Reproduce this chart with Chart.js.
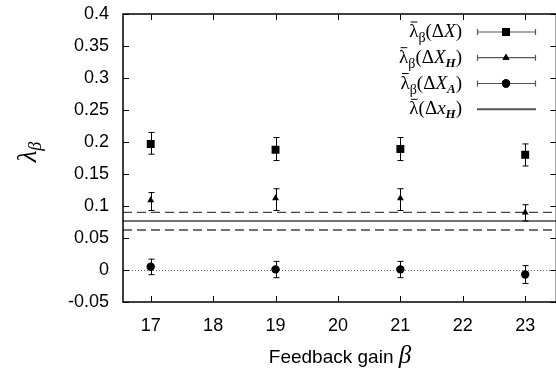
<!DOCTYPE html>
<html>
<head>
<meta charset="utf-8">
<script src="https://cdn.jsdelivr.net/npm/chart.js@4"></script>
<style>
  html, body { margin: 0; padding: 0; background: #fff; overflow: hidden; }
  #wrap { width: 556px; height: 371px; overflow: hidden; }
</style>
</head>
<body>
<div id="wrap"><canvas id="chart" width="562" height="371"></canvas></div>
<script>
// feedback gain values
const betas = [17, 19, 21, 23];

// lambda_beta(dX)
const lamX = [0.197, 0.188, 0.189, 0.180];
const lamXLo = [0.181, 0.171, 0.171, 0.1625];
const lamXHi = [0.215, 0.207, 0.207, 0.197];

// lambda_beta(dX_H)
const lamXH = [0.109, 0.112, 0.112, 0.090];
const lamXHLo = [0.093, 0.093, 0.093, 0.0766];
const lamXHHi = [0.121, 0.127, 0.127, 0.102];

// lambda_beta(dX_A)
const lamXA = [0.005, 0.001, 0.001, -0.007];
const lamXALo = [-0.0073, -0.012, -0.012, -0.021];
const lamXAHi = [0.017, 0.0135, 0.0135, 0.0068];

// lambda(dx_H) with band
const refVal = 0.0766;
const refLo = 0.0625;
const refHi = 0.090;

const xRange = [16.556, 23.5];
const xTicks = [17, 18, 19, 20, 21, 22, 23];
const yTicks = [-0.05, 0, 0.05, 0.1, 0.15, 0.2, 0.25, 0.3, 0.35, 0.4];

const errs = {
  0: [lamXLo, lamXHi],
  1: [lamXHLo, lamXHHi],
  2: [lamXALo, lamXAHi]
};

function pts(vals) {
  return betas.map((b, i) => ({ x: b, y: vals[i] }));
}
function hline(v) {
  return [{ x: xRange[0], y: v }, { x: xRange[1], y: v }];
}

// text made of pieces: [text, font, dy]
function pieceWidth(ctx, pieces) {
  let w = 0;
  pieces.forEach(p => { ctx.font = p[1]; w += ctx.measureText(p[0]).width; });
  return w;
}
function drawPieces(ctx, pieces, x, y) {
  pieces.forEach(p => {
    ctx.font = p[1];
    ctx.fillText(p[0], x, y + (p[2] || 0));
    x += ctx.measureText(p[0]).width;
  });
}

const SER = '"Liberation Serif", "DejaVu Serif", serif';
const SANS = '"Liberation Sans", Arial, sans-serif';
const fN = '19px ' + SER;
const fI = 'italic 19px ' + SER;
const fS = '14px ' + SER;
const fSI = 'italic 600 13px ' + SER;

const legendRows = [
  { label: [['λ', fN], ['β', fS, 5], ['(Δ', fN], ['X', fI], [')', fN]], style: 'rect', r: 5.6 },
  { label: [['λ', fN], ['β', fS, 5], ['(Δ', fN], ['X', fI], ['H', fSI, 4], [')', fN]], style: 'triangle', r: 4 },
  { label: [['λ', fN], ['β', fS, 5], ['(Δ', fN], ['X', fI], ['A', fSI, 4], [')', fN]], style: 'circle', r: 4.2 },
  { label: [['λ', fN], ['(Δ', fN], ['x', fI], ['H', fSI, 4], [')', fN]], style: null }
];

const decor = {
  id: 'decor',
  beforeDatasetsDraw(chart) {
    const ctx = chart.ctx;
    const a = chart.chartArea;
    const ys = chart.scales.y;
    ctx.save();
    // dotted zero line
    ctx.strokeStyle = '#444';
    ctx.lineWidth = 0.8;
    ctx.setLineDash([1, 2]);
    ctx.beginPath();
    const y0 = Math.round(ys.getPixelForValue(0)) + 0.5;
    ctx.moveTo(a.left, y0); ctx.lineTo(a.right, y0);
    ctx.stroke();
    ctx.restore();
  },
  afterDatasetsDraw(chart) {
    const ctx = chart.ctx;
    const a = chart.chartArea;
    const xs = chart.scales.x, ys = chart.scales.y;
    ctx.save();
    // error bars
    ctx.strokeStyle = '#000';
    ctx.lineWidth = 1;
    Object.keys(errs).forEach(k => {
      const [lo, hi] = errs[k];
      betas.forEach((b, i) => {
        const px = Math.round(xs.getPixelForValue(b)) + 0.5;
        const pl = ys.getPixelForValue(lo[i]);
        const ph = ys.getPixelForValue(hi[i]);
        ctx.beginPath();
        ctx.moveTo(px, pl); ctx.lineTo(px, ph);
        ctx.moveTo(px - 3, pl); ctx.lineTo(px + 3, pl);
        ctx.moveTo(px - 3, ph); ctx.lineTo(px + 3, ph);
        ctx.stroke();
      });
    });
    // frame
    ctx.lineWidth = 1.5;
    ctx.strokeRect(a.left, a.top, a.right - a.left, a.bottom - a.top);
    // inward ticks
    ctx.lineWidth = 1;
    ctx.beginPath();
    xTicks.forEach(v => {
      const px = Math.round(xs.getPixelForValue(v)) + 0.5;
      ctx.moveTo(px, a.bottom); ctx.lineTo(px, a.bottom - 6);
      ctx.moveTo(px, a.top); ctx.lineTo(px, a.top + 6);
    });
    yTicks.forEach(v => {
      const py = Math.round(ys.getPixelForValue(v)) + 0.5;
      ctx.moveTo(a.left, py); ctx.lineTo(a.left + 6, py);
      ctx.moveTo(a.right, py); ctx.lineTo(a.right - 6, py);
    });
    ctx.stroke();

    // legend
    const rowY = [32, 57.7, 83.5, 109.3];
    const textRight = 462, lx0 = 477, lx1 = 536, lmid = 506;
    ctx.textBaseline = 'alphabetic';
    legendRows.forEach((row, i) => {
      const y = rowY[i];
      const w = pieceWidth(ctx, row.label);
      const x = textRight - w;
      ctx.fillStyle = '#000';
      drawPieces(ctx, row.label, x, y + 5);
      // macron over lambda
      ctx.font = fN;
      const lw = ctx.measureText('λ').width;
      ctx.strokeStyle = '#000';
      ctx.lineWidth = 1;
      ctx.beginPath();
      ctx.moveTo(x + 1.5, y - 10); ctx.lineTo(x + lw - 1, y - 10);
      ctx.stroke();
      // sample
      ctx.strokeStyle = '#555';
      ctx.lineWidth = row.style ? 1.2 : 2;
      ctx.beginPath();
      ctx.moveTo(lx0, y); ctx.lineTo(lx1, y);
      if (row.style) {
        ctx.moveTo(lx0 + 0.5, y - 3); ctx.lineTo(lx0 + 0.5, y + 3);
        ctx.moveTo(lx1 - 0.5, y - 3); ctx.lineTo(lx1 - 0.5, y + 3);
      }
      ctx.stroke();
      if (row.style) {
        ctx.fillStyle = '#000';
        Chart.helpers.drawPoint(ctx, { pointStyle: row.style, radius: row.r, borderWidth: 0 }, lmid, y);
        ctx.fill();
      }
    });

    // axis titles
    ctx.fillStyle = '#000';
    ctx.textBaseline = 'alphabetic';
    const t1 = 'Feedback gain ';
    ctx.font = '19px ' + SANS;
    const w1 = ctx.measureText(t1).width;
    ctx.font = 'italic 25px ' + SER;
    const w2 = ctx.measureText('β').width;
    const tx = 340 - (w1 + w2) / 2;
    ctx.font = '19px ' + SANS;
    ctx.fillText(t1, tx, 363);
    ctx.font = 'italic 25px ' + SER;
    ctx.fillText('β', tx + w1, 363);

    ctx.save();
    ctx.translate(36, 152);
    ctx.rotate(-Math.PI / 2);
    ctx.font = 'italic 27px ' + SER;
    const lwid = ctx.measureText('λ').width;
    ctx.font = 'italic 18px ' + SER;
    const bwid = ctx.measureText('β').width;
    const tot = lwid + bwid;
    ctx.font = 'italic 27px ' + SER;
    ctx.fillText('λ', -tot / 2, 0);
    ctx.font = 'italic 18px ' + SER;
    ctx.fillText('β', -tot / 2 + lwid, 5);
    ctx.restore();

    ctx.restore();
  }
};

new Chart(document.getElementById('chart').getContext('2d'), {
  type: 'scatter',
  data: {
    datasets: [
      { data: pts(lamX), pointStyle: 'rect', pointRadius: 5.6, backgroundColor: '#000', borderWidth: 0, order: 1 },
      { data: pts(lamXH), pointStyle: 'triangle', pointRadius: 4, backgroundColor: '#000', borderWidth: 0, order: 1 },
      { data: pts(lamXA), pointStyle: 'circle', pointRadius: 4.2, backgroundColor: '#000', borderWidth: 0, order: 1 },
      { type: 'line', data: hline(refVal), borderColor: '#444', borderWidth: 1.5, pointRadius: 0, order: 2 },
      { type: 'line', data: hline(refLo), borderColor: '#444', borderWidth: 1.3, borderDash: [9, 5], pointRadius: 0, order: 2 },
      { type: 'line', data: hline(refHi), borderColor: '#444', borderWidth: 1.3, borderDash: [9, 5], pointRadius: 0, order: 2 }
    ]
  },
  options: {
    responsive: false,
    animation: false,
    events: [],
    layout: { padding: { left: 0, top: 14, right: 1.5, bottom: 0 } },
    plugins: { legend: { display: false }, tooltip: { enabled: false } },
    scales: {
      x: {
        type: 'linear',
        min: xRange[0],
        max: xRange[1],
        afterBuildTicks: s => { s.ticks = xTicks.map(v => ({ value: v })); },
        afterFit: s => { s.height = 69; s.paddingLeft = 0; s.paddingRight = 0; },
        grid: { display: false, drawTicks: false },
        border: { display: false },
        ticks: {
          padding: 13,
          color: '#000',
          font: { family: SANS, size: 18 },
          callback: v => String(v)
        }
      },
      y: {
        min: yTicks[0],
        max: yTicks[yTicks.length - 1],
        afterBuildTicks: s => { s.ticks = yTicks.map(v => ({ value: v })); },
        afterFit: s => { s.width = 123; s.paddingTop = 0; s.paddingBottom = 0; },
        grid: { display: false, drawTicks: false },
        border: { display: false },
        ticks: {
          padding: 14,
          color: '#000',
          font: { family: SANS, size: 18 },
          callback: v => String(+v.toFixed(2))
        }
      }
    }
  },
  plugins: [decor]
});
</script>
</body>
</html>
